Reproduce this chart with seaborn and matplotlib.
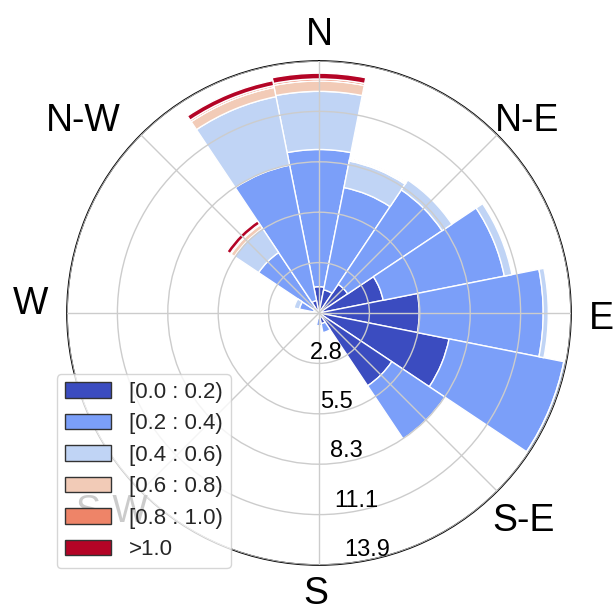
import numpy as np
import matplotlib
matplotlib.use("Agg")
import matplotlib.pyplot as plt
from matplotlib.patches import Patch
import seaborn as sns

# Wind direction sectors (clockwise from north) and frequency (%) per speed bin
directions = ["N", "NNE", "NE", "ENE", "E", "ESE", "SE", "SSE",
              "S", "SSW", "SW", "WSW", "W", "WNW", "NW", "NNW"]
bin_labels = ["[0.0 : 0.2)", "[0.2 : 0.4)", "[0.4 : 0.6)",
              "[0.6 : 0.8)", "[0.8 : 1.0)", ">1.0"]

speed_00_02 = [1.45, 1.30, 1.90, 3.60, 5.52, 7.30, 4.82, 0.60,
               0.30, 0.15, 0.00, 0.00, 0.05, 0.30, 0.40, 0.70]
speed_02_04 = [7.55, 5.74, 6.25, 6.80, 6.82, 6.44, 3.52, 0.50,
               0.40, 0.10, 0.00, 0.00, 0.00, 0.80, 3.60, 7.60]
speed_04_06 = [3.20, 1.49, 0.65, 0.43, 0.28, 0.13, 0.04, 0.00,
               0.00, 0.00, 0.00, 0.00, 0.00, 0.30, 1.60, 3.84]
speed_06_08 = [0.57, 0.04, 0.00, 0.00, 0.00, 0.00, 0.00, 0.00,
               0.00, 0.00, 0.00, 0.00, 0.00, 0.00, 0.23, 0.52]
speed_08_10 = [0.11, 0.03, 0.00, 0.00, 0.00, 0.00, 0.00, 0.00,
               0.00, 0.00, 0.00, 0.00, 0.00, 0.00, 0.05, 0.10]
speed_10_up = [0.32, 0.05, 0.00, 0.00, 0.00, 0.00, 0.00, 0.00,
               0.00, 0.00, 0.00, 0.00, 0.00, 0.00, 0.22, 0.28]

compass_labels = ["N", "N-E", "E", "S-E", "S", "S-W", "W", "N-W"]

sns.set_theme(style="white")
plt.rcParams["font.family"] = ["Liberation Sans", "DejaVu Sans"]

fig = plt.figure(figsize=(6.16, 6.07), dpi=100)
ax = fig.add_axes([67 / 616, 42 / 607, 504 / 616, 504 / 607], projection="polar")
ax.set_theta_zero_location("N")
ax.set_theta_direction(-1)

layers = [speed_00_02, speed_02_04, speed_04_06,
          speed_06_08, speed_08_10, speed_10_up]
colors = sns.color_palette("coolwarm", as_cmap=True)(np.linspace(0, 1, len(layers)))

theta = np.deg2rad(np.arange(len(directions)) * 360 / len(directions))
width = np.deg2rad(360 / len(directions))
bottom = np.zeros(len(directions))
for vals, col in zip(layers, colors):
    vals = np.asarray(vals, dtype=float)
    keep = vals > 0
    ax.bar(theta[keep], vals[keep], width=width, bottom=bottom[keep],
           color=col, edgecolor="white", linewidth=1.0, zorder=1)
    bottom += vals

# radial scale: five rings up to the largest sector total
rmax = bottom.max()
ax.set_ylim(0, rmax)
rticks = np.linspace(0, rmax, 6)[1:]
ax.set_yticks(rticks)
ax.set_yticklabels([])
label_angle = np.deg2rad(168.5)
for t in rticks:
    ax.text(label_angle, t - 0.69, f"{t:.1f}", ha="center",
            va="center_baseline", fontsize=17, color="black", zorder=5)

# compass grid every 45 degrees, names set just outside the rim
ax.set_xticks(np.deg2rad(np.arange(8) * 45))
ax.set_xticklabels([])
name_angles = [0.0, 46.7, 90.4, 134.9, 180.6, 226.8, 272.6, 309.8]
name_radii = [1.121, 1.134, 1.119, 1.148, 1.100, 1.131, 1.144, 1.216]
for name, ang, rad in zip(compass_labels, name_angles, name_radii):
    ax.text(np.deg2rad(ang), rad * rmax, name, ha="center",
            va="center_baseline", fontsize=27, color="black", clip_on=False)
ax.tick_params(axis="both", size=0)

ax.grid(True, color="#cccccc", linewidth=1.0)
ax.set_axisbelow(False)
ax.spines["polar"].set_color("black")
ax.spines["polar"].set_linewidth(1.2)

handles = [Patch(facecolor=c, edgecolor="#333333", linewidth=1.0) for c in colors]
fig.legend(handles, bin_labels, loc="lower left",
           bbox_to_anchor=(57 / 616, 39 / 607), borderaxespad=0,
           fontsize=16, handlelength=2.1, handleheight=0.7,
           handletextpad=0.8, labelspacing=0.47, borderpad=0.35,
           frameon=True, framealpha=0.8, edgecolor="#cccccc", fancybox=True)

fig.savefig("out.png", dpi=100)
